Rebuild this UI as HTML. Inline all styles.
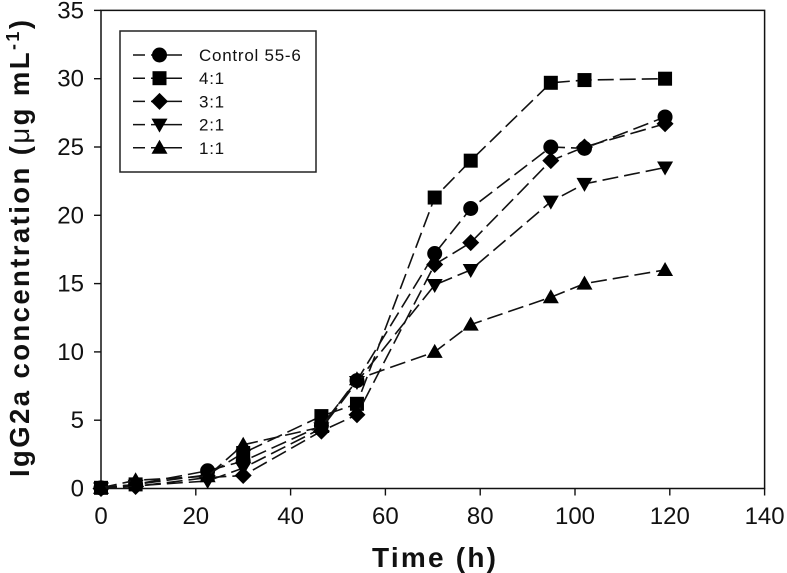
<!DOCTYPE html>
<html lang="en">
<head>
<meta charset="utf-8">
<title>IgG2a concentration over time</title>
<style>
html,body{margin:0;padding:0;background:#fff;}
svg{display:block;font-family:"Liberation Sans",sans-serif;filter:blur(0.35px);}
</style>
</head>
<body>
<svg id="chart" xmlns="http://www.w3.org/2000/svg" width="787" height="573" viewBox="0 0 787 573">
  <g id="axes"></g>
  <g id="series"></g>
  <text x="372" y="567" font-size="28" font-weight="bold" textLength="124" lengthAdjust="spacing" fill="#111">Time (h)</text>
  <text transform="translate(29,477) rotate(-90)" font-size="27.5" font-weight="bold" fill="#111" textLength="457" lengthAdjust="spacing">IgG2a concentration (<tspan font-weight="normal">μ</tspan>g mL<tspan font-size="18" dy="-10">-1</tspan><tspan dy="10">)</tspan></text>
  <g>
    <rect x="120" y="31" width="196" height="141" fill="#fff" stroke="#222" stroke-width="1.5"></rect>
    <g id="legend-entries"></g>
  </g>
</svg>
<script>
const times = [0, 7.3, 22.5, 30, 46.5, 54, 70.4, 78, 94.9, 102, 119];
const control = [0.05, 0.3, 1.3, 2.0, 4.6, 7.9, 17.2, 20.5, 25, 24.9, 27.2];
const ratio41 = [0.05, 0.3, 1.0, 2.6, 5.3, 6.2, 21.3, 24, 29.7, 29.9, 30];
const ratio31 = [0, 0.15, 0.8, 0.95, 4.2, 5.4, 16.4, 18, 24, 25, 26.7];
const ratio21 = [0, 0.2, 0.55, 1.5, 4.4, 7.8, 14.9, 16, 21, 22.3, 23.5];
const ratio11 = [0.05, 0.6, 0.9, 3.2, 4.5, 8, 10, 12, 14, 15, 16];
const seriesNames = ['Control 55-6', '4:1', '3:1', '2:1', '1:1'];
const seriesKeys = ['control', 'ratio-4-1', 'ratio-3-1', 'ratio-2-1', 'ratio-1-1'];
const seriesValues = [control, ratio41, ratio31, ratio21, ratio11];
const seriesMarkers = ['circle', 'square', 'diamond', 'down', 'up'];
const xTicks = [0, 20, 40, 60, 80, 100, 120, 140];
const yTicks = [0, 5, 10, 15, 20, 25, 30, 35];

const NS = 'http://www.w3.org/2000/svg';
const INK = '#111';
function xScale(v) { return 101 + v * 4.74; }
function yScale(v) { return 488.5 - v * 13.66; }
function make(tag, attrs, parent) {
  const el = document.createElementNS(NS, tag);
  for (const k in attrs) el.setAttribute(k, attrs[k]);
  parent.appendChild(el);
  return el;
}
function markerPath(kind, x, y) {
  if (kind === 'square') return `M${x-7},${y-7}H${x+7}V${y+7}H${x-7}Z`;
  if (kind === 'diamond') return `M${x},${y-8.5}L${x+8.5},${y}L${x},${y+8.5}L${x-8.5},${y}Z`;
  if (kind === 'down') return `M${x-8},${y-6}H${x+8}L${x},${y+8}Z`;
  if (kind === 'up') return `M${x-8},${y+6}H${x+8}L${x},${y-8}Z`;
  const r = 7.5;
  return `M${x-r},${y}A${r},${r} 0 1 0 ${x+r},${y}A${r},${r} 0 1 0 ${x-r},${y}Z`;
}

const axes = document.getElementById('axes');
const frame = make('path', {d: `M${xScale(0)},${yScale(35)}H${xScale(140)}V${yScale(0)}H${xScale(0)}Z`, fill: 'none', stroke: INK, 'stroke-width': 1.5}, axes);



xTicks.forEach(function (t) {
  const x = xScale(t);
  const tick = make('line', {x1: x, x2: x, y1: yScale(0), y2: yScale(0) + 7, stroke: INK, 'stroke-width': 1.4}, axes);
  
  
  const label = make('text', {x: x, y: 524, 'text-anchor': 'middle', 'font-size': 24, fill: INK}, axes);
  
  
  label.textContent = t;
});
yTicks.forEach(function (t) {
  const y = yScale(t);
  const tick = make('line', {x1: xScale(0) - 7, x2: xScale(0), y1: y, y2: y, stroke: INK, 'stroke-width': 1.4}, axes);
  
  
  const label = make('text', {x: 84, y: y + 8, 'text-anchor': 'end', 'font-size': 24, fill: INK}, axes);
  
  
  label.textContent = t;
});

const seriesLayer = document.getElementById('series');
seriesValues.forEach(function (values, i) {
  const g = make('g', {}, seriesLayer);
  
  
  const pts = values.map(function (v, j) { return xScale(times[j]) + ',' + yScale(v); }).join(' ');
  const line = make('polyline', {points: pts, fill: 'none', stroke: INK, 'stroke-width': 1.6, 'stroke-dasharray': '16 6'}, g);
  
  
  values.forEach(function (v, j) {
    const m = make('path', {d: markerPath(seriesMarkers[i], xScale(times[j]), yScale(v)), fill: '#000'}, g);
    
    
  });
});

const legendLayer = document.getElementById('legend-entries');
seriesNames.forEach(function (name, i) {
  const y = 55 + i * 23.2;
  const g = make('g', {}, legendLayer);
  
  
  make('path', {d: `M133,${y}H145M151,${y}H182`, stroke: INK, 'stroke-width': 1.5, fill: 'none'}, g);
  make('path', {d: markerPath(seriesMarkers[i], 159.5, y), fill: '#000'}, g);
  const label = make('text', {x: 199, y: y + 6, 'font-size': 17, 'letter-spacing': 0.75, fill: INK}, g);
  
  
  label.textContent = name;
});
</script>
</body>
</html>
